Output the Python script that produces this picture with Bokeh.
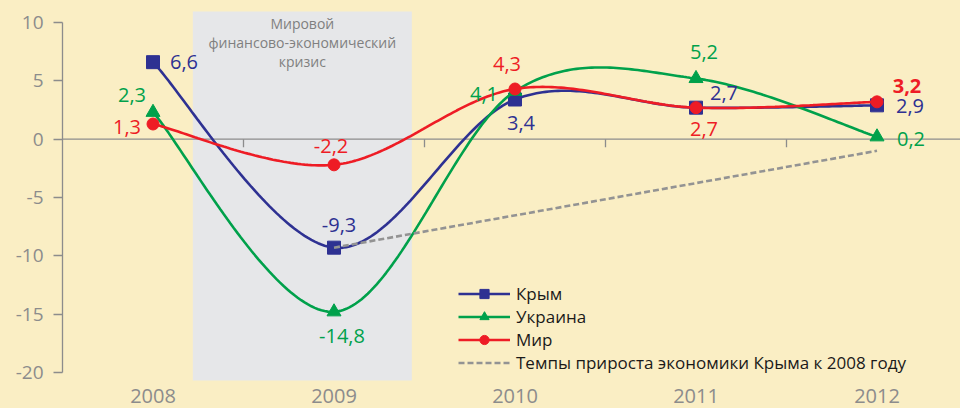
import numpy as np
from bokeh.plotting import figure
from bokeh.models import (ColumnDataSource, FixedTicker, Span, BoxAnnotation,
                          Legend, LegendItem, LabelSet)
from bokeh.core.properties import value
from bokeh.embed import file_html
from bokeh.resources import INLINE

# ---------------- data ----------------
YEARS = ["2008", "2009", "2010", "2011", "2012"]
KRYM = [6.6, -9.3, 3.4, 2.7, 2.9]
UKRAINA = [2.3, -14.8, 4.1, 5.2, 0.2]
MIR = [1.3, -2.2, 4.3, 2.7, 3.2]
TREND_YEARS = ["2009", "2012"]
TREND = [-9.3, -1.0]
Y_TICKS = [-20, -15, -10, -5, 0, 5, 10]
CRISIS_LABEL = "Мировой\nфинансово-экономический\nкризис"

# ---------------- style ----------------
FONT = "Open Sans"
BG = "#faeec4"
AXIS_GREY = "#8c8c8c"
C_KRYM = "#2e3192"
C_UKR = "#00a14b"
C_MIR = "#ee1c25"
C_TREND = "#939393"

W, H = 960, 408
LEFT = 62
X0, X1 = 2007.5, 2007.5 + (W - LEFT) / 181.0
PX_PER_Y = 350 / 30.0
Y1 = 10 + 22 / PX_PER_Y
Y0 = -20 - (H - 372) / PX_PER_Y

xs = np.array([int(y) for y in YEARS], dtype=float)


def fmt(v):
    return f"{v:.1f}".replace(".", ",")


def smooth(x, y, n=60):
    pts = np.column_stack([x, y]).astype(float)
    out = []
    m = len(pts)
    for i in range(m - 1):
        p0 = pts[i - 1] if i > 0 else pts[i]
        p1, p2 = pts[i], pts[i + 1]
        p3 = pts[i + 2] if i + 2 < m else pts[i + 1]
        c1 = p1 + (p2 - p0) / 6.0
        c2 = p2 - (p3 - p1) / 6.0
        t = np.linspace(0, 1, n)[:, None]
        seg = ((1 - t) ** 3) * p1 + 3 * ((1 - t) ** 2) * t * c1 + 3 * (1 - t) * t ** 2 * c2 + t ** 3 * p2
        out.append(seg if i == 0 else seg[1:])
    arr = np.vstack(out)
    return arr[:, 0], arr[:, 1]


p = figure(width=W, height=H, x_range=(X0, X1), y_range=(Y0, Y1),
           x_axis_location=None, toolbar_location=None, output_backend="svg",
           min_border_left=LEFT, min_border_right=0, min_border_top=0, min_border_bottom=0,
           background_fill_color=BG, border_fill_color=BG, outline_line_color=None)
p.grid.visible = False

# y axis
ya = p.yaxis[0]
ya.ticker = FixedTicker(ticks=Y_TICKS)
ya.bounds = (min(Y_TICKS), max(Y_TICKS))
ya.major_label_overrides = {t: str(t) for t in Y_TICKS}
ya.axis_line_color = AXIS_GREY
ya.axis_line_width = 1.3
ya.major_tick_line_color = AXIS_GREY
ya.major_tick_line_width = 1.3
ya.major_tick_out = 9
ya.major_tick_in = 0
ya.minor_tick_line_color = None
ya.major_label_standoff = 10
ya.major_label_text_font = FONT
ya.major_label_text_font_size = "19px"
ya.major_label_text_color = AXIS_GREY

# crisis shading
box = BoxAnnotation(left=2008.22, right=2009.43, top=10.94, bottom=-20.69,
                    fill_color="#e6e7e9", fill_alpha=1.0, line_color=None, level="underlay")
p.add_layout(box)
p.text(x=[(2008.22 + 2009.43) / 2], y=[10.94], text=[CRISIS_LABEL],
       text_align="center", text_baseline="top", y_offset=2,
       text_font=value(FONT), text_font_size="14px", text_color="#808080",
       text_line_height=1.0)

# zero line + category ticks
p.add_layout(Span(location=0, dimension="width", line_color=AXIS_GREY,
                  line_width=1.3, level="underlay"))
mid = xs[:-1] + 0.5
p.segment(x0=mid, x1=mid, y0=np.zeros_like(mid), y1=np.full_like(mid, -8 / PX_PER_Y),
          line_color=AXIS_GREY, line_width=1.3)

# x labels
xl_src = ColumnDataSource(dict(x=xs, t=YEARS))
p.add_layout(LabelSet(x="x", y=6, y_units="screen", text="t", source=xl_src,
                      text_align="center", text_baseline="alphabetic",
                      text_font=value(FONT), text_font_size="20px", text_color=AXIS_GREY))

# series
renderers = {}
for name, vals, col, marker, msize in [("Крым", KRYM, C_KRYM, "square", 13),
                                       ("Украина", UKRAINA, C_UKR, "triangle", 14),
                                       ("Мир", MIR, C_MIR, "circle", 12)]:
    sx, sy = smooth(xs, vals)
    ln = p.line(sx, sy, line_color=col, line_width=2.6)
    sc = p.scatter(xs, vals, marker=marker, size=msize, fill_color=col, line_color=col)
    renderers[name] = [ln, sc]

txs = np.array([int(y) for y in TREND_YEARS], dtype=float)
tr = p.line(txs, TREND, line_color=C_TREND, line_width=2.6, line_dash="6 3")

# data labels (offsets in screen px)
label_offsets = {
    "Крым": ([31, 5, 6, 28, 33], [0, -23, 23, -15, 1]),
    "Украина": ([-21, 8, -31, 8, 34], [-17, 24, 3, -27, 2]),
    "Мир": ([-26, -3, -8, 8, 30], [3, -19, -25, 21, -16]),
}
for name, vals, col in [("Крым", KRYM, C_KRYM), ("Украина", UKRAINA, C_UKR), ("Мир", MIR, C_MIR)]:
    dx, dy = label_offsets[name]
    styles = ["normal"] * len(vals)
    if name == "Мир":
        styles[-1] = "bold"
    src = ColumnDataSource(dict(x=xs, y=vals, t=[fmt(v) for v in vals], dx=dx, dy=dy, st=styles))
    p.text(x="x", y="y", text="t", x_offset="dx", y_offset="dy", source=src,
           text_align="center", text_baseline="middle", text_font=value(FONT),
           text_font_size="20px", text_color=col, text_font_style="st")

legend = Legend(items=[LegendItem(label="Крым", renderers=renderers["Крым"]),
                       LegendItem(label="Украина", renderers=renderers["Украина"]),
                       LegendItem(label="Мир", renderers=renderers["Мир"]),
                       LegendItem(label="Темпы прироста экономики Крыма к 2008 году", renderers=[tr])],
                location=(396, 34), orientation="vertical",
                glyph_width=52, glyph_height=23, label_height=23, spacing=0,
                label_standoff=6, padding=0, margin=0,
                label_text_font=FONT, label_text_font_size="17px", label_text_color="#1a1a1a",
                border_line_color=None, background_fill_alpha=0)
p.add_layout(legend, "center")

html = file_html(p, INLINE)
html = html.replace("<head>", "<head><style>body{background:%s;}</style>" % BG, 1)
open("out.html", "w").write(html)
